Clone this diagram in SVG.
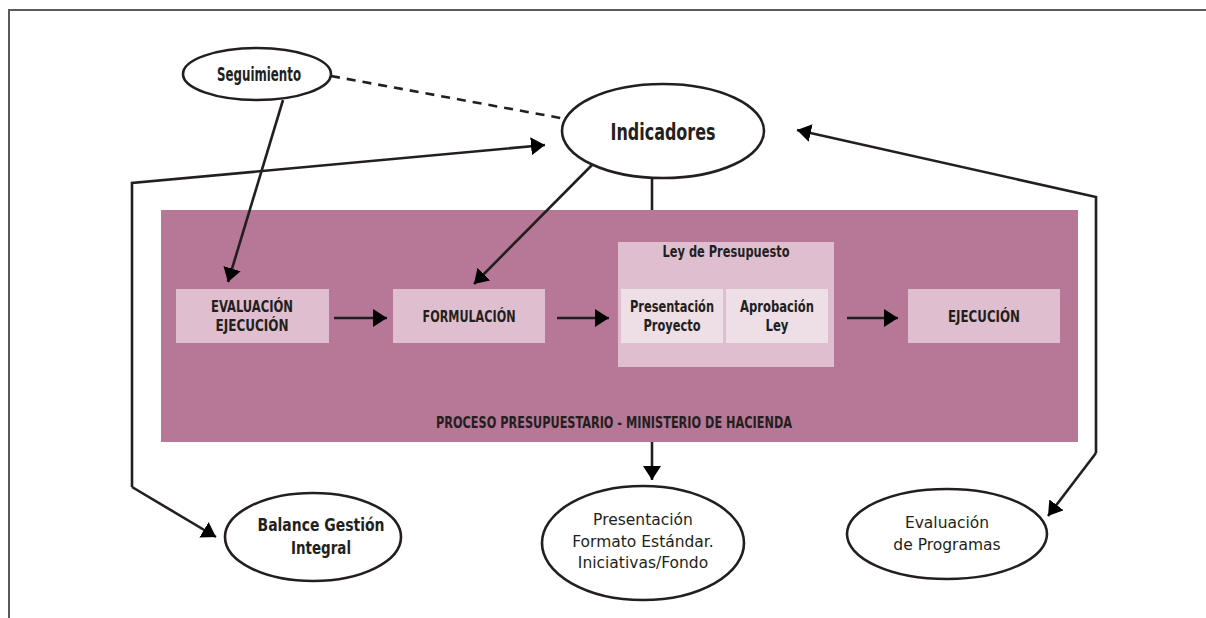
<svg xmlns="http://www.w3.org/2000/svg" width="1206" height="618" viewBox="0 0 1206 618">
<style>
.frame{fill:none;stroke:#5a5a5a;stroke-width:2}
.ell{fill:#fff;stroke:#231f20;stroke-width:2.6}
.band{fill:#b77797}
.box{fill:#dfbfcf}
.inner{fill:#eedee6}
.con{fill:none;stroke:#231f20;stroke-width:2.6}
.dash{fill:none;stroke:#231f20;stroke-width:2.6;stroke-dasharray:9 7}
.bt{font-family:"DejaVu Sans Condensed","Liberation Sans",sans-serif;font-weight:bold;fill:#231f20;text-anchor:middle}
.rt{font-family:"DejaVu Sans","Liberation Sans",sans-serif;fill:#231f20;text-anchor:middle;font-size:15.5px}
</style>
<defs>
<marker id="ah" markerUnits="userSpaceOnUse" markerWidth="16" markerHeight="20" refX="14" refY="9" orient="auto">
<path d="M0,0 L14,9 L0,18 z" fill="#000"/>
</marker>
</defs>
<rect width="1206" height="618" fill="#fff"/>
<path class="frame" d="M9,618 V10 H1206"/>

<g id="proceso">
<rect class="band" x="161" y="210" width="917" height="232"/>
<text class="bt" x="614" y="428" font-size="15" textLength="356" lengthAdjust="spacingAndGlyphs">PROCESO PRESUPUESTARIO - MINISTERIO DE HACIENDA</text>
</g>

<g id="evaluacion-ejecucion">
<rect class="box" x="176" y="289" width="153" height="54"/>
<text class="bt" x="252" y="312" font-size="15" textLength="82" lengthAdjust="spacingAndGlyphs">EVALUACIÓN</text>
<text class="bt" x="252" y="331" font-size="15" textLength="73" lengthAdjust="spacingAndGlyphs">EJECUCIÓN</text>
</g>

<g id="formulacion">
<rect class="box" x="393" y="289" width="152" height="54"/>
<text class="bt" x="469" y="322" font-size="15" textLength="93" lengthAdjust="spacingAndGlyphs">FORMULACIÓN</text>
</g>

<g id="ley-presupuesto">
<rect class="box" x="618" y="242" width="216" height="125"/>
<text class="bt" x="726" y="257" font-size="15" textLength="127" lengthAdjust="spacingAndGlyphs">Ley de Presupuesto</text>
</g>

<g id="presentacion-proyecto">
<rect class="inner" x="621" y="289" width="102" height="54"/>
<text class="bt" x="672" y="312" font-size="15" textLength="84" lengthAdjust="spacingAndGlyphs">Presentación</text>
<text class="bt" x="672" y="331" font-size="15" textLength="57" lengthAdjust="spacingAndGlyphs">Proyecto</text>
</g>

<g id="aprobacion-ley">
<rect class="inner" x="726" y="289" width="102" height="54"/>
<text class="bt" x="777" y="312" font-size="15" textLength="74" lengthAdjust="spacingAndGlyphs">Aprobación</text>
<text class="bt" x="777" y="331" font-size="15" textLength="23" lengthAdjust="spacingAndGlyphs">Ley</text>
</g>

<g id="ejecucion">
<rect class="box" x="908" y="289" width="152" height="54"/>
<text class="bt" x="984" y="322" font-size="15" textLength="72" lengthAdjust="spacingAndGlyphs">EJECUCIÓN</text>
</g>

<g id="connectors">
<path class="dash" d="M331,76 L566,119"/>
<path class="con" d="M283,100 L228,282" marker-end="url(#ah)"/>
<path class="con" d="M132,487 V183 L545,145" marker-end="url(#ah)"/>
<path class="con" d="M132,487 L216,537" marker-end="url(#ah)"/>
<path class="con" d="M592,165 L474,284" marker-end="url(#ah)"/>
<path class="con" d="M652,178 V210"/>
<path class="con" d="M652,442 V480" marker-end="url(#ah)"/>
<path class="con" d="M1096,453 V197 L797,130" marker-end="url(#ah)"/>
<path class="con" d="M1096,453 L1048,516" marker-end="url(#ah)"/>
<path class="con" d="M334,318 H387" marker-end="url(#ah)"/>
<path class="con" d="M557,318 H609" marker-end="url(#ah)"/>
<path class="con" d="M847,318 H898" marker-end="url(#ah)"/>
</g>

<g id="seguimiento">
<ellipse class="ell" cx="257" cy="74" rx="74" ry="26"/>
<text class="bt" x="259" y="81" font-size="19" textLength="84" lengthAdjust="spacingAndGlyphs">Seguimiento</text>
</g>

<g id="indicadores">
<ellipse class="ell" cx="663" cy="131" rx="101" ry="47"/>
<text class="bt" x="663" y="140" font-size="23" textLength="105" lengthAdjust="spacingAndGlyphs">Indicadores</text>
</g>

<g id="balance">
<ellipse class="ell" cx="313" cy="537" rx="88" ry="44"/>
<text class="bt" x="321" y="531" font-size="18" textLength="127" lengthAdjust="spacingAndGlyphs">Balance Gestión</text>
<text class="bt" x="321" y="554" font-size="18" textLength="60" lengthAdjust="spacingAndGlyphs">Integral</text>
</g>

<g id="presentacion-formato">
<ellipse class="ell" cx="643" cy="543" rx="101" ry="57"/>
<text class="rt" x="643" y="525">Presentación</text>
<text class="rt" x="643" y="547">Formato Estándar.</text>
<text class="rt" x="643" y="568">Iniciativas/Fondo</text>
</g>

<g id="evaluacion-programas">
<ellipse class="ell" cx="947" cy="534" rx="100" ry="45"/>
<text class="rt" x="947" y="528">Evaluación</text>
<text class="rt" x="947" y="550">de Programas</text>
</g>
</svg>
